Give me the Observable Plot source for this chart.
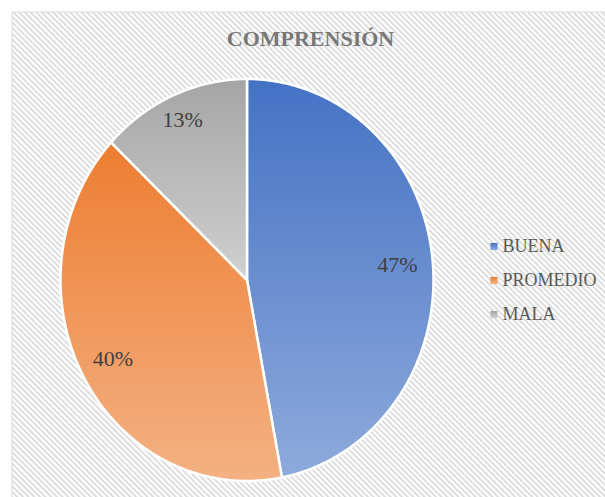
<!DOCTYPE html>
<html>
<head>
<meta charset="utf-8">
<script src="https://cdn.jsdelivr.net/npm/d3@7"></script>
<script src="https://cdn.jsdelivr.net/npm/@observablehq/plot@0.6"></script>
<style>
  html, body { margin: 0; padding: 0; background: #fff; overflow: hidden; }
  #chart svg { display: block; }
  #chart svg text { font-family: "Liberation Serif", "Times New Roman", serif !important; }
</style>
</head>
<body>
<div id="chart"></div>
<script>
const title = "COMPRENSIÓN";
const categories = ["BUENA", "PROMEDIO", "MALA"];
const values = [47, 40, 13];
const valueLabels = ["47%", "40%", "13%"];
const colorsTop = ["#4472C4", "#ED7D31", "#A5A5A5"];
const colorsBottom = ["#8FAADC", "#F4B183", "#D0D0D0"];

const W = 605, H = 497;
const cx = 246.5, cy = 279.5, rx = 186.5, ry = 201;

const arcs = d3.pie().sort(null).value(d => d)(values);
const slices = arcs.map((a, i) => {
  const pts = [{x: 0, y: 0}];
  const n = Math.max(2, Math.ceil((a.endAngle - a.startAngle) / (Math.PI / 180)));
  for (let k = 0; k <= n; k++) {
    const t = a.startAngle + (a.endAngle - a.startAngle) * k / n;
    pts.push({x: Math.sin(t), y: Math.cos(t)});
  }
  pts.push({x: 0, y: 0});
  return pts;
});
const labelRadius = [0.81, 0.82, 0.87];
const labelData = arcs.map((a, i) => {
  const m = (a.startAngle + a.endAngle) / 2;
  return {x: labelRadius[i] * Math.sin(m), y: labelRadius[i] * Math.cos(m), text: valueLabels[i]};
});

function defs() {
  const ns = "http://www.w3.org/2000/svg";
  const d = document.createElementNS(ns, "defs");
  let html = `<pattern id="hatch" patternUnits="userSpaceOnUse" width="4" height="4" patternTransform="rotate(-45)">
      <rect width="4" height="4" fill="#ffffff"/>
      <rect x="0" y="0" width="1.6" height="4" fill="#d6d6d6"/>
    </pattern>`;
  colorsTop.forEach((c, i) => {
    html += `<linearGradient id="g${i}" x1="0" y1="0" x2="0" y2="1">
      <stop offset="0" stop-color="${c}"/>
      <stop offset="1" stop-color="${colorsBottom[i]}"/>
    </linearGradient>`;
  });
  d.innerHTML = html;
  return d;
}

const font = "Liberation Serif";

const marks = [
  defs,
  Plot.frame({fill: "url(#hatch)", stroke: "#d9d9d9", strokeWidth: 1,
    insetLeft: 11.5, insetTop: 11.5, insetRight: -10, insetBottom: -10}),
  ...slices.map((pts, i) => Plot.line(pts, {
    x: "x", y: "y", fill: `url(#g${i})`, stroke: "white", strokeWidth: 2.5,
    strokeLinejoin: "round", curve: "linear"
  })),
  Plot.text(labelData, {x: "x", y: "y", text: "text", fontSize: 22,
    fontFamily: font, fill: "#404040"}),
  Plot.text([title], {frameAnchor: "top", dx: 7.5, dy: 38, lineAnchor: "middle",
    text: d => d, fontSize: 22, fontWeight: "bold", fontFamily: font, fill: "#787878"}),
  ...categories.flatMap((c, i) => [
    Plot.dot([c], {frameAnchor: "top-left", dx: 493.5, dy: 246 + i * 34,
      symbol: "square", r: 4, fill: `url(#g${i})`, stroke: null}),
    Plot.text([c], {frameAnchor: "top-left", dx: 502, dy: 246 + i * 34,
      lineAnchor: "middle", textAnchor: "start", text: d => d, fontSize: 18,
      fontFamily: font, fill: "#595959"})
  ])
];

const chart = Plot.plot({
  width: W, height: H, margin: 0,
  x: {domain: [-1, 1], range: [cx - rx, cx + rx], axis: null},
  y: {domain: [-1, 1], range: [cy + ry, cy - ry], axis: null},
  style: {background: "white", overflow: "hidden"},
  marks
});
document.getElementById("chart").append(chart);
</script>
</body>
</html>
